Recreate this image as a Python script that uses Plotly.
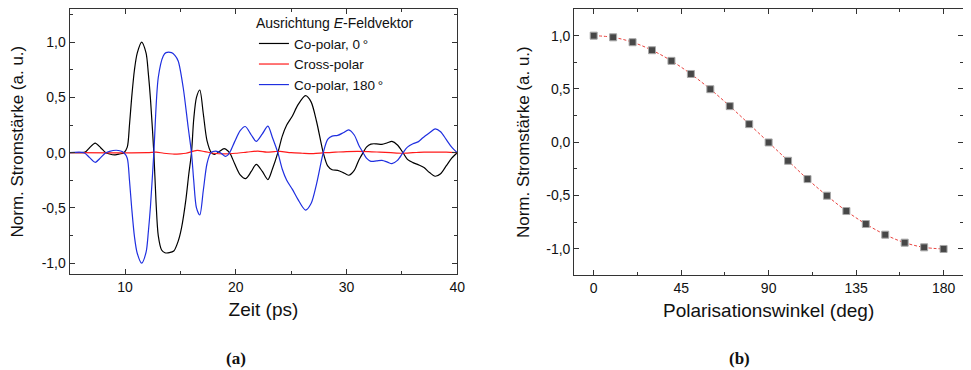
import plotly.graph_objects as go

# ---------------- data (a) ----------------
t_co0 = [5.0, 6.0, 6.4, 6.8, 7.3, 7.8, 8.2, 8.6, 9.1, 9.5, 9.9, 10.2, 10.4, 10.6, 10.85, 11.1, 11.5,
         11.9, 12.1, 12.3, 12.6, 12.8, 13.0, 13.3, 13.6, 14.0, 14.4, 14.8, 15.1, 15.5, 15.75, 16.0,
         16.2, 16.45, 16.75, 17.07, 17.4, 17.8, 18.1, 18.5, 18.95, 19.3, 19.5, 19.9, 20.4, 20.9,
         21.4, 21.85, 22.4, 22.9, 23.3, 23.8, 24.2, 24.6, 25.1, 25.6, 26.3, 26.8, 27.3, 27.9, 28.3,
         28.7, 29.2, 29.7, 30.2, 30.7, 31.1, 31.5, 31.8, 32.2, 32.7, 33.2, 33.7, 34.1, 34.6, 35.1,
         35.5, 36.0, 36.5, 37.0, 37.5, 38.0, 38.5, 39.0, 39.5, 40.0]
v_co0 = [0.0, 0.0, 0.005, 0.045, 0.087, 0.045, 0.005, -0.012, -0.02, -0.012, 0.0, 0.05, 0.25, 0.5,
         0.75, 0.9, 1.0, 0.9, 0.72, 0.48, 0.0, -0.45, -0.75, -0.88, -0.905, -0.905, -0.89, -0.8,
         -0.68, -0.42, -0.2, 0.0, 0.3, 0.5, 0.567, 0.35, 0.11, 0.0, -0.015, 0.01, 0.036, 0.015,
         -0.01, -0.1, -0.2, -0.234, -0.17, -0.105, -0.17, -0.243, -0.15, 0.0, 0.15, 0.25, 0.33,
         0.43, 0.516, 0.46, 0.28, 0.0, -0.12, -0.155, -0.16, -0.18, -0.204, -0.16, -0.07, 0.0,
         0.05, 0.078, 0.08, 0.075, 0.09, 0.102, 0.07, 0.0, -0.06, -0.09, -0.11, -0.135, -0.18,
         -0.213, -0.19, -0.12, -0.05, 0.0]

t_co180 = [5.0, 6.3, 6.8, 7.3, 7.8, 8.2, 8.6, 9.2, 9.6, 9.9, 10.2, 10.4, 10.6, 10.85, 11.1, 11.5,
           11.9, 12.1, 12.3, 12.6, 13.0, 13.45, 13.7, 14.2, 14.5, 14.8, 15.25, 15.7, 16.0, 16.2,
           16.45, 16.75, 17.07, 17.4, 17.75, 18.2, 18.6, 19.05, 19.3, 19.5, 19.9, 20.4, 20.85,
           21.4, 21.85, 22.4, 22.9, 23.3, 23.8, 24.2, 24.6, 25.1, 25.6, 26.3, 26.8, 27.3, 27.9,
           28.3, 28.7, 29.2, 29.7, 30.2, 30.7, 31.1, 31.5, 31.8, 32.2, 32.7, 33.2, 33.7, 34.1,
           34.6, 35.1, 35.5, 36.0, 36.5, 36.9, 37.5, 38.0, 38.5, 39.0, 39.5, 40.0]
v_co180 = [0.0, 0.0, -0.045, -0.087, -0.045, -0.005, 0.012, 0.022, 0.015, 0.0, -0.05, -0.25, -0.5,
           -0.76, -0.91, -1.0, -0.9, -0.72, -0.48, 0.0, 0.68, 0.875, 0.905, 0.905, 0.88, 0.83,
           0.59, 0.23, 0.0, -0.25, -0.5, -0.564, -0.34, -0.1, 0.0, 0.015, 0.0, -0.033, -0.02,
           0.01, 0.1, 0.2, 0.237, 0.16, 0.102, 0.17, 0.24, 0.14, 0.0, -0.15, -0.25, -0.33, -0.42,
           -0.519, -0.46, -0.28, 0.0, 0.12, 0.15, 0.156, 0.18, 0.207, 0.16, 0.07, 0.0, -0.05,
           -0.078, -0.075, -0.069, -0.085, -0.099, -0.07, 0.0, 0.05, 0.081, 0.1, 0.135, 0.18,
           0.216, 0.19, 0.12, 0.05, 0.0]

t_cross = [5.0, 12.0, 12.8, 13.5, 14.3, 15.0, 15.5, 16.5, 17.2, 18.0, 19.0, 20.0, 21.0, 22.0, 22.8,
           23.5, 24.0, 25.0, 26.0, 27.0, 28.0, 29.0, 30.0, 31.0, 32.0, 33.0, 34.0, 35.0, 36.0,
           37.0, 38.0, 39.0, 40.0]
v_cross = [0.0, 0.0, 0.005, -0.005, -0.012, -0.01, -0.005, 0.02, 0.01, -0.005, -0.01, -0.005,
           0.005, 0.015, 0.005, 0.01, 0.012, 0.0, -0.005, -0.008, 0.0, 0.005, 0.01, 0.012, 0.01,
           0.005, 0.0, -0.005, 0.0, 0.005, 0.005, 0.005, 0.0]

# ---------------- data (b) ----------------
angle = [0, 10, 20, 30, 40, 50, 60, 70, 80, 90, 100, 110, 120, 130, 140, 150, 160, 170, 180]
current = [1.0, 0.984, 0.938, 0.863, 0.763, 0.64, 0.497, 0.338, 0.169, -0.003, -0.175, -0.347,
           -0.503, -0.647, -0.769, -0.869, -0.944, -0.988, -1.003]

y_ticks = [-1.0, -0.5, 0.0, 0.5, 1.0]
y_ticktext = ["-1,0", "-0,5", "0,0", "0,5", "1,0"]
xa_ticks = [10, 20, 30, 40]
xb_ticks = [0, 45, 90, 135, 180]

# page body adds an 8 px offset; figure is sized so it ends at the window edge
OFF = 8
W, H = 971 - OFF, 370 - OFF


def px(p):
    return (p - OFF) / W


def py(p):
    return 1 - (p - OFF) / H


FONT = "Liberation Sans, Arial, sans-serif"
SERIF = "Liberation Serif, Times New Roman, serif"
AX = "#333333"

fig = go.Figure()

fig.add_trace(go.Scatter(x=t_co0, y=v_co0, mode="lines", name="Co-polar, 0\u2009°",
                         line=dict(color="black", width=1.2, shape="spline", smoothing=0.8),
                         xaxis="x", yaxis="y"))
fig.add_trace(go.Scatter(x=t_cross, y=v_cross, mode="lines", name="Cross-polar",
                         line=dict(color="#ff1a1a", width=1.2, shape="spline", smoothing=0.8),
                         xaxis="x", yaxis="y"))
fig.add_trace(go.Scatter(x=t_co180, y=v_co180, mode="lines", name="Co-polar, 180\u2009°",
                         line=dict(color="#1f2fe0", width=1.2, shape="spline", smoothing=0.8),
                         xaxis="x", yaxis="y"))

fig.add_trace(go.Scatter(x=angle, y=current, mode="lines", showlegend=False,
                         line=dict(color="#e8433f", width=1, dash="3px,2px", shape="spline"),
                         xaxis="x2", yaxis="y2"))
fig.add_trace(go.Scatter(x=angle, y=current, mode="markers", showlegend=False,
                         marker=dict(symbol="square", size=7, color="#474747",
                                     line=dict(color="#a8a8a8", width=1)),
                         xaxis="x2", yaxis="y2"))

common_axis = dict(showgrid=False, zeroline=False, showline=True, linecolor=AX, linewidth=1.2,
                   mirror="allticks", ticks="inside", ticklen=5, tickcolor=AX, tickwidth=1,
                   tickfont=dict(family=FONT, size=14, color="#111"))
xtitle_font = dict(family=FONT, size=19, color="#111")
ytitle_font = dict(family=FONT, size=17, color="#111")

fig.update_layout(
    width=W, height=H,
    margin=dict(l=0, r=0, t=0, b=0),
    paper_bgcolor="white", plot_bgcolor="white",
    font=dict(family=FONT, color="#111"),
    xaxis=dict(common_axis, domain=[px(70.2), px(461)], range=[5, 40],
               tickvals=xa_ticks, minor=dict(dtick=5, ticks="inside", ticklen=3, tickcolor=AX),
               title=dict(text="Zeit (ps)", standoff=8, font=xtitle_font), anchor="y"),
    yaxis=dict(common_axis, domain=[py(274), py(8)], range=[-1.1, 1.3],
               tickvals=y_ticks, ticktext=y_ticktext,
               minor=dict(tickvals=[-0.75, -0.25, 0.25, 0.75, 1.25], ticks="inside", ticklen=3,
                          tickcolor=AX),
               title=dict(text="Norm. Stromstärke (a. u.)", standoff=14, font=ytitle_font),
               anchor="x"),
    xaxis2=dict(common_axis, domain=[px(579), 1.0], range=[-10, 190],
                tickvals=xb_ticks,
                minor=dict(tickvals=[22.5, 67.5, 112.5, 157.5], ticks="inside", ticklen=3,
                           tickcolor=AX),
                title=dict(text="Polarisationswinkel (deg)", standoff=8, font=xtitle_font),
                anchor="y2"),
    yaxis2=dict(common_axis, domain=[py(275), py(8)], range=[-1.25, 1.25],
                tickvals=y_ticks, ticktext=y_ticktext,
                minor=dict(tickvals=[-0.75, -0.25, 0.25, 0.75], ticks="inside", ticklen=3,
                           tickcolor=AX),
                title=dict(text="Norm. Stromstärke (a. u.)", standoff=12, font=ytitle_font),
                anchor="x2"),
    legend=dict(x=px(256), y=py(9), xanchor="left", yanchor="top",
                bgcolor="rgba(0,0,0,0)", borderwidth=0,
                font=dict(family=FONT, size=13.5, color="#111"),
                title=dict(text="Ausrichtung <i>E</i>-Feldvektor",
                           font=dict(family=FONT, size=14, color="#111")),
                tracegroupgap=0, itemwidth=30),
    annotations=[
        dict(text="<b>(a)</b>", x=px(238), y=py(358), xref="paper", yref="paper",
             xanchor="center", yanchor="middle",
             showarrow=False, font=dict(family=SERIF, size=17, color="#111")),
        dict(text="<b>(b)</b>", x=px(746), y=py(358), xref="paper", yref="paper",
             xanchor="center", yanchor="middle",
             showarrow=False, font=dict(family=SERIF, size=17, color="#111")),
    ],
)

fig.write_html("out.html")
